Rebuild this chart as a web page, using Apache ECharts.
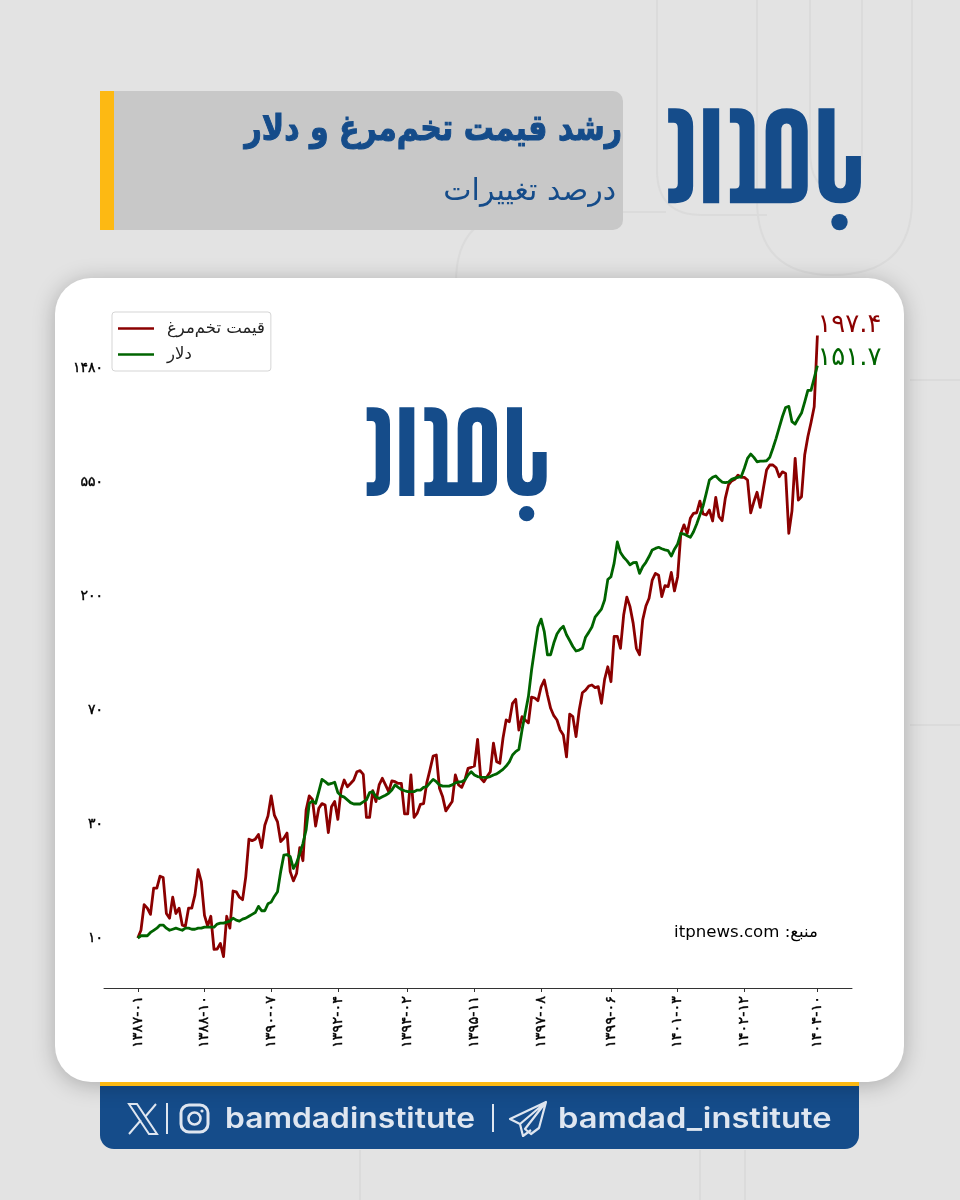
<!DOCTYPE html>
<html lang="fa">
<head>
<meta charset="utf-8">
<title>رشد قیمت تخم‌مرغ و دلار</title>
<script src="https://cdn.jsdelivr.net/npm/echarts@6/dist/echarts.min.js"></script>
<style>
html,body{margin:0;padding:0;background:#e3e3e3}
#chart{width:960px;height:1200px}
</style>
</head>
<body>
<div id="chart" dir="rtl"></div>
<script>
// Growth index of egg price and the dollar, monthly from 1387-01 to 1404-10 (log scale).
const eggValues = [
  1.00,1.07,1.34,1.30,1.23,1.55,1.55,1.72,1.70,1.24,
  1.19,1.43,1.24,1.30,1.12,1.11,1.30,1.30,1.46,1.82,
  1.64,1.22,1.11,1.21,0.906,0.908,0.954,0.849,1.21,1.09,
  1.51,1.50,1.43,1.40,1.71,2.38,2.35,2.38,2.48,2.21,
  2.69,2.92,3.48,2.94,2.77,2.33,2.40,2.51,1.79,1.65,
  1.76,2.21,1.97,3.07,3.48,3.37,2.67,3.12,3.25,3.21,
  2.52,3.16,3.31,2.83,3.66,4.00,3.77,3.88,4.00,4.30,
  4.34,4.20,2.88,2.88,3.64,3.31,3.83,4.06,3.83,3.61,
  3.97,3.94,3.88,3.88,2.97,2.97,4.18,2.88,2.99,3.23,
  3.25,3.90,4.37,4.93,4.98,3.72,3.45,3.05,3.18,3.31,
  4.18,3.83,3.75,4.00,4.43,4.47,4.52,5.71,4.06,3.94,
  4.12,4.30,5.52,4.69,4.63,5.77,6.77,6.67,7.84,8.12,
  6.20,6.97,6.77,6.60,8.28,8.21,8.02,9.06,9.61,8.43,
  7.50,7.03,6.77,6.20,5.94,4.90,7.13,6.97,5.85,7.39,
  8.60,8.80,9.12,9.20,8.99,9.07,7.84,9.67,10.8,9.47,
  14.1,14.1,12.7,17.0,19.9,18.3,15.8,12.7,12.0,16.3,
  18.4,19.7,23.1,24.5,24.1,20.0,22.0,21.8,24.7,21.0,
  23.8,34.8,37.5,34.8,39.7,41.5,41.7,46.2,41.3,40.9,
  42.7,38.8,47.7,40.3,38.9,47.3,53.2,55.1,55.9,58.0,
  56.9,56.9,55.6,41.7,45.9,49.9,43.7,51.7,60.7,63.4,
  63.4,61.9,57.2,59.7,58.9,34.8,42.4,67.2,46.6,48.0,
  69.2,81.2,92.0,105.6,197.4
];
const dollarValues = [
  1.00,1.02,1.02,1.02,1.05,1.07,1.09,1.12,1.12,1.09,
  1.07,1.08,1.09,1.08,1.07,1.09,1.09,1.08,1.08,1.09,
  1.09,1.10,1.10,1.10,1.10,1.13,1.14,1.14,1.15,1.16,
  1.19,1.17,1.16,1.18,1.19,1.21,1.23,1.25,1.32,1.27,
  1.27,1.35,1.37,1.44,1.50,1.79,2.07,2.08,2.04,1.84,
  1.93,2.10,2.29,2.58,3.26,3.33,3.26,3.61,4.02,3.94,
  3.85,3.88,3.92,3.58,3.48,3.44,3.36,3.28,3.24,3.24,
  3.24,3.30,3.36,3.58,3.61,3.45,3.40,3.45,3.50,3.56,
  3.66,3.83,3.75,3.68,3.64,3.61,3.61,3.61,3.66,3.66,
  3.75,3.77,3.90,4.02,3.94,3.83,3.79,3.79,3.79,3.83,
  3.90,3.93,3.94,4.00,4.18,4.30,4.18,4.12,4.10,4.09,
  4.09,4.12,4.18,4.22,4.30,4.39,4.52,4.69,4.98,5.13,
  5.23,6.20,7.18,8.31,10.5,12.7,15.3,16.4,14.7,12.0,
  12.0,13.3,14.4,15.0,15.4,14.3,13.6,12.9,12.4,12.5,
  12.7,14.0,14.6,15.3,16.7,17.3,17.9,19.4,23.2,23.8,
  26.8,32.3,29.4,28.2,27.4,26.4,26.9,27.0,24.5,26.0,
  27.0,28.4,30.1,30.5,30.8,30.4,30.1,29.9,28.5,30.3,
  31.7,34.8,34.6,34.1,33.6,35.3,37.8,40.9,44.2,49.4,
  55.6,56.9,57.6,55.9,54.6,54.3,54.6,55.9,56.5,56.9,
  57.2,61.6,67.2,69.8,67.8,65.2,65.6,65.6,65.8,67.8,
  73.4,80.1,88.2,97.0,105,106,92.7,90.8,95.5,100,
  110,122,122,136,151.7
];
const seriesNames = ['قیمت تخم‌مرغ', 'دلار'];
const xTickMonths = [0,21,42,63,85,106,127,149,170,191,214];
const xTickLabels = ['۱۳۸۷-۰۱','۱۳۸۸-۱۰','۱۳۹۰-۰۷','۱۳۹۲-۰۴','۱۳۹۴-۰۲','۱۳۹۵-۱۱','۱۳۹۷-۰۸','۱۳۹۹-۰۶','۱۴۰۱-۰۳','۱۴۰۲-۱۲','۱۴۰۴-۱۰'];
// The vertical axis steps by powers of e; each step carries one of these labels.
const yTickLabels = ['۱۰','۳۰','۷۰','۲۰۰','۵۵۰','۱۴۸۰'];
const titleText = 'رشد قیمت تخم‌مرغ و دلار';
const subtitleText = 'درصد تغییرات';
const sourceText = 'منبع: itpnews.com';
const handleX = 'bamdadinstitute';
const handleTelegram = 'bamdad_institute';

const BLUE = '#154c8a', RED = '#8b0000', GREEN = '#006400', ORANGE = '#fdb913';
const FONT = '"DejaVu Sans", sans-serif';
const LINES = '#dbdbdb';
const PALE = '#dfe6f0';

const toPersian = s => String(s).replace(/[0-9]/g, d => '۰۱۲۳۴۵۶۷۸۹'[+d]);
const indexed = values => values.map((v, i) => [i, v]);

// Small outline shape: M/L/Q/Z commands scaled by s and moved to x,y.
echarts.graphic.registerShape('outline', echarts.graphic.extendShape({
  shape: { d: '', x: 0, y: 0, s: 1 },
  buildPath(ctx, shape) {
    const tokens = shape.d.trim().split(/[\s,]+|(?=[MLQZ])/).filter(Boolean);
    const px = v => shape.x + parseFloat(v) * shape.s;
    const py = v => shape.y + parseFloat(v) * shape.s;
    let i = 0;
    while (i < tokens.length) {
      const c = tokens[i].charAt(0);
      const rest = tokens[i].slice(1);
      const take = () => { const t = rest && take.first ? (take.first = false, rest) : tokens[++i]; return t; };
      take.first = true;
      if (c === 'M') { const a = take(), b = take(); ctx.moveTo(px(a), py(b)); }
      else if (c === 'L') { const a = take(), b = take(); ctx.lineTo(px(a), py(b)); }
      else if (c === 'Q') { const a = take(), b = take(), e = take(), f = take(); ctx.quadraticCurveTo(px(a), py(b), px(e), py(f)); }
      else if (c === 'Z') { ctx.closePath(); }
      i++;
    }
  }
}));

// Wordmark outline, in its own 600x400 drawing box.
const LOGO_PATH =
  'M20,37 L40,37 Q90,37 90,87 L90,255 Q90,303 40,303 L20,303 L20,262 L35,262 Q47,262 47,248 L47,93 Q47,78 35,78 L20,78 Z ' +
  'M118,37 L163,37 L163,303 L118,303 Z ' +
  'M193,37 L215,37 Q262,37 262,85 L262,262 L293,262 L293,100 Q293,37 352,37 Q411,37 411,100 L411,255 Q411,303 363,303 L193,303 L193,262 L208,262 Q220,262 220,250 L220,92 Q220,78 208,78 L193,78 Z ' +
  'M337,262 L366,262 L366,100 Q366,80 352,80 Q337,80 337,100 Z ' +
  'M441,37 L486,37 L486,238 Q486,262 503,262 Q518,262 518,238 L518,171 L560,171 L560,245 Q560,303 503,303 Q441,303 441,245 Z';

function logo(x, y, s, z) {
  return [
    { type: 'outline', z, shape: { d: LOGO_PATH, x, y, s }, style: { fill: BLUE } },
    { type: 'circle', z, shape: { cx: x + 500 * s, cy: y + 356 * s, r: 23 * s }, style: { fill: BLUE } }
  ];
}
// Faint outlined strokes in the page background.
function ghost(d, x, y) {
  return { type: 'outline', z: -20, shape: { d, x, y, s: 1 }, style: { fill: null, stroke: LINES, lineWidth: 2 } };
}

const chart = echarts.init(document.getElementById('chart'));
chart.setOption({
  animation: false,
  backgroundColor: '#e3e3e3',
  textStyle: { fontFamily: FONT },
  grid: { left: 104, right: 108, top: 305, bottom: 212 },
  legend: {
    left: 112, top: 312,
    orient: 'vertical',
    align: 'left',
    data: seriesNames,
    icon: 'rect',
    itemWidth: 36, itemHeight: 2.5, itemGap: 9,
    padding: [8, 6, 8, 6],
    backgroundColor: '#fff',
    borderColor: '#d5d5d5', borderWidth: 1, borderRadius: 3,
    textStyle: { fontFamily: FONT, fontSize: 16.5, color: '#222', padding: [0, 0, 0, 8] }
  },
  xAxis: {
    type: 'value', min: -10.64, max: 224.9,
    splitLine: { show: false },
    axisLine: { show: true, onZero: false, lineStyle: { color: '#333', width: 1 } },
    axisTick: { show: true, length: 4, customValues: xTickMonths, lineStyle: { color: '#333' } },
    axisLabel: {
      customValues: xTickMonths,
      rotate: 90, margin: 8, color: '#000', fontSize: 14.5, fontFamily: FONT,
      textBorderColor: '#000', textBorderWidth: 0.4,
      formatter: v => xTickLabels[xTickMonths.indexOf(Math.round(v))]
    }
  },
  yAxis: {
    type: 'log', logBase: Math.E,
    min: Math.exp(-0.4386), max: Math.exp(5.553),
    splitLine: { show: false },
    axisLine: { show: false },
    axisTick: { show: false },
    axisLabel: {
      showMinLabel: false, showMaxLabel: false,
      margin: 1, color: '#000', fontSize: 14, fontFamily: FONT,
      textBorderColor: '#000', textBorderWidth: 0.4,
      formatter: v => {
        const step = Math.log(v);
        return Math.abs(step - Math.round(step)) < 0.02 ? (yTickLabels[Math.round(step)] || '') : '';
      }
    }
  },
  series: [
    {
      name: seriesNames[0], type: 'line', data: indexed(eggValues),
      symbol: 'none', z: 3,
      lineStyle: { color: RED, width: 2.8, join: 'round' }, itemStyle: { color: RED },
      endLabel: {
        show: true, offset: [-8, -10], color: RED, fontSize: 26, fontFamily: FONT,
        formatter: p => toPersian(p.value[1])
      }
    },
    {
      name: seriesNames[1], type: 'line', data: indexed(dollarValues),
      symbol: 'none', z: 4,
      lineStyle: { color: GREEN, width: 2.8, join: 'round' }, itemStyle: { color: GREEN },
      endLabel: {
        show: true, offset: [-8, -7], color: GREEN, fontSize: 26, fontFamily: FONT,
        formatter: p => toPersian(p.value[1])
      }
    }
  ],
  graphic: [
    ghost('M0,0 L0,170 Q0,215 45,215 L110,215', 657, 0),
    ghost('M0,0 L0,200 Q0,275 75,275 Q155,275 155,200 L155,0', 757, 0),
    ghost('M0,0 L0,150 Q0,190 26,190 Q52,190 52,150 L52,0', 810, 0),
    ghost('M0,70 Q0,0 70,0 L210,0', 456, 212),
    ghost('M0,0 L50,0', 910, 380),
    ghost('M0,0 L50,0', 910, 725),
    ghost('M0,0 L0,50', 360, 1150),
    ghost('M0,0 L0,50', 700, 1150),
    ghost('M0,0 L0,50', 745, 1150),

    // Header block
    { type: 'rect', z: -10, shape: { x: 100, y: 91, width: 523, height: 139, r: [0, 10, 10, 0] }, style: { fill: '#c8c8c8' } },
    { type: 'rect', z: -9, shape: { x: 100, y: 91, width: 14, height: 139 }, style: { fill: ORANGE } },
    { type: 'text', z: -8, x: 622, y: 131, scaleY: 1.2,
      style: { text: titleText, fill: BLUE, stroke: BLUE, lineWidth: 0.9, font: 'bold 30px ' + FONT, textAlign: 'right', textVerticalAlign: 'middle' } },
    { type: 'text', z: -8, x: 616, y: 192, style: { text: subtitleText, fill: BLUE, font: '30px ' + FONT, textAlign: 'right', textVerticalAlign: 'middle' } },
    ...logo(661, 95, 0.357, -8),

    // Footer band
    { type: 'rect', z: -7, shape: { x: 100, y: 1082, width: 759, height: 67, r: [0, 0, 14, 14] }, style: { fill: BLUE } },
    // X mark
    { type: 'outline', z: -6, shape: { d: 'M0,0 L8,0 L28,30 L20,30 Z M0,30 L12,16 M27,0 L16,13', x: 129, y: 1104, s: 1 },
      style: { fill: null, stroke: PALE, lineWidth: 2 } },
    { type: 'rect', z: -6, shape: { x: 166, y: 1103, width: 2, height: 31 }, style: { fill: PALE } },
    // Instagram mark
    { type: 'rect', z: -6, shape: { x: 181, y: 1105, width: 27, height: 27, r: 8 }, style: { fill: null, stroke: PALE, lineWidth: 3 } },
    { type: 'circle', z: -6, shape: { cx: 194.5, cy: 1118.5, r: 6 }, style: { fill: null, stroke: PALE, lineWidth: 2.5 } },
    { type: 'circle', z: -6, shape: { cx: 202, cy: 1111, r: 1.6 }, style: { fill: PALE } },
    { type: 'text', z: -6, x: 225, y: 1120, scaleX: 1.135,
      style: { text: handleX, fill: PALE, font: '600 28px Inter, sans-serif', textAlign: 'left', textVerticalAlign: 'middle' } },
    { type: 'rect', z: -6, shape: { x: 492, y: 1104, width: 2, height: 28 }, style: { fill: PALE } },
    // Telegram mark
    { type: 'outline', z: -6, shape: { d: 'M36,0 L0,17 L10,22 L36,0 L15,27 L21,32 L29,26 L36,0 M10,22 L13,34 L21,28', x: 510, y: 1102, s: 1 },
      style: { fill: null, stroke: PALE, lineWidth: 2.2, lineJoin: 'round' } },
    { type: 'text', z: -6, x: 558, y: 1120, scaleX: 1.167,
      style: { text: handleTelegram, fill: PALE, font: '600 28px Inter, sans-serif', textAlign: 'left', textVerticalAlign: 'middle' } },

    // White card holding the plot, with the orange rule just under it
    { type: 'rect', z: -5, shape: { x: 55, y: 278, width: 849, height: 804, r: 36 },
      style: { fill: '#fff', shadowBlur: 22, shadowColor: 'rgba(0,0,0,0.25)', shadowOffsetY: 3 } },
    { type: 'rect', z: -4, shape: { x: 100, y: 1082, width: 759, height: 4 }, style: { fill: ORANGE } },

    // Watermark and source note inside the plot
    ...logo(360, 395, 1 / 3, -1),
    { type: 'text', z: 5, x: 818, y: 933, style: { text: sourceText, fill: '#000', font: '16.6px ' + FONT, textAlign: 'right', textVerticalAlign: 'middle' } }
  ]
});
</script>
</body>
</html>
